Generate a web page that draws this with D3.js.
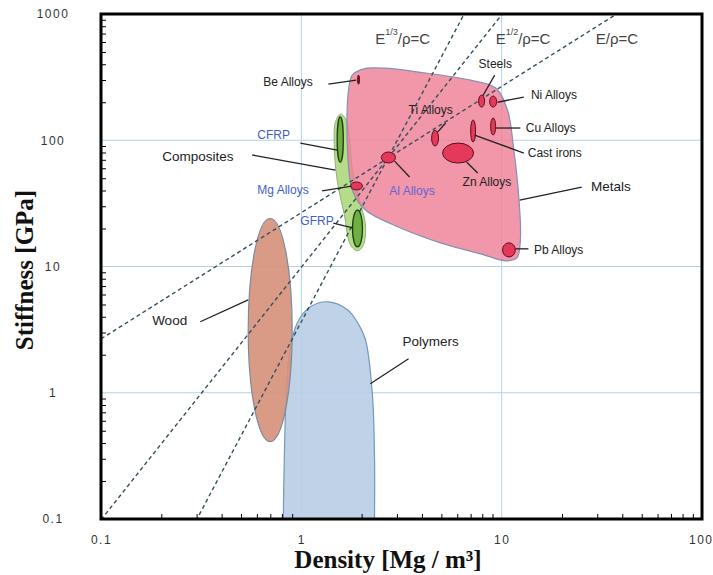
<!DOCTYPE html>
<html>
<head>
<meta charset="utf-8">
<script src="https://cdn.jsdelivr.net/npm/d3@7"></script>
<style>
body { margin: 0; background: #fff; }
svg { display: block; font-family: Arial, "Liberation Sans", sans-serif; }
.tick text { fill: #333; font-size: 12px; letter-spacing: 1.5px; }
.tick line { stroke: #000; }
.label { font-size: 12px; fill: #222; }
.big { font-size: 13.5px; }
.blue { fill: #3f5fc8; }
.purple { fill: #6464d4; }
.leader { stroke: #222; stroke-width: 1.3; }
.guide { fill: none; stroke: #34505c; stroke-width: 1.4; stroke-dasharray: 4 3; }
.guidetext { font-size: 15px; fill: #444; }
.grid { stroke: #b4d2e4; stroke-width: 1; }
.title { font-family: "Liberation Serif", "Times New Roman", serif; font-weight: bold; font-size: 25px; fill: #111; }
</style>
</head>
<body>
<script>
// axis ticks
const xTicks = [0.1, 1, 10, 100];
const yTicks = [0.1, 1, 10, 100, 1000];
const xGrid = [1, 10];
const yGrid = [1, 10, 100];

// envelopes as [density Mg/m3, modulus GPa]
const metalsOutline = [[1.72, 250], [1.80, 330], [2.05, 368], [2.6, 372], [3.94, 345], [7.0, 299], [9.33, 259],
  [10.7, 173], [11.5, 84], [12.2, 34], [12.4, 16.2], [11.9, 11.7], [10.5, 11.1], [7.85, 12.6],
  [4.95, 15.4], [3.13, 20.2], [2.09, 28], [1.80, 40], [1.70, 84]];
const compositesOutline = [[1.57, 161], [1.68, 144], [1.74, 100], [1.80, 58], [1.95, 34], [2.09, 21.3],
  [2.04, 14.8], [1.91, 13.3], [1.76, 14.8], [1.64, 25.6], [1.51, 48], [1.46, 92], [1.48, 139]];
const polymersOutline = [[0.813, 0.03], [0.813, 0.1], [0.822, 0.295], [0.841, 1.0], [0.871, 2.0], [0.955, 3.58],
  [1.109, 4.79], [1.365, 5.25], [1.70, 4.54], [1.91, 3.58], [2.09, 2.63], [2.26, 1.0], [2.32, 0.295],
  [2.32, 0.1], [2.32, 0.03]];
const woodRho = [0.543, 0.90];
const woodE = [0.41, 24];

// single materials: density range, modulus range
const alloyNames = ['Be Alloys', 'Mg Alloys', 'Al Alloys', 'Ti Alloys', 'Zn Alloys', 'Steels',
  'Ni Alloys', 'Cu Alloys', 'Cast irons', 'Pb Alloys'];
const alloyRho = [[1.91, 1.95], [1.76, 2.02], [2.51, 2.95], [4.47, 4.84], [5.07, 7.24], [7.67, 8.22],
  [8.71, 9.44], [8.81, 9.33], [7.0, 7.41], [10.1, 11.7]];
const alloyE = [[278, 328], [40.4, 46.7], [66, 80.7], [90, 120], [66, 95], [183, 228],
  [183, 224], [110, 150], [96.8, 145], [11.9, 15.4]];
const fibreNames = ['CFRP', 'GFRP'];
const fibreRho = [[1.51, 1.62], [1.80, 2.02]];
const fibreE = [[67, 153], [14.3, 28]];

// guide lines E^(1/n)/rho = C
const guideN = [3, 2, 1];
const guideC = [1.54, 3.14, 26.7];
const guideSup = ['1/3', '1/2', ''];
const guideAt = [[2.34, 644], [9.33, 644], [29.5, 644]];

// annotations: text, text anchor, leader start, leader end
const labels = [
  { t: 'Be Alloys', at: [0.646, 289], a: [1.365, 278], b: [1.88, 299] },
  { t: 'CFRP', at: [0.603, 110], a: [0.989, 95], b: [1.51, 83.6], c: 'blue' },
  { t: 'Composites', at: [0.202, 75], a: [0.569, 76.4], b: [1.48, 58.1], c: 'big' },
  { t: 'Mg Alloys', at: [0.603, 40.4], a: [1.27, 39.7], b: [1.78, 43.4], c: 'blue' },
  { t: 'GFRP', at: [0.989, 22.9], a: [1.445, 22.1], b: [1.80, 20.2], c: 'blue' },
  { t: 'Ti Alloys', at: [3.43, 173], a: [5.25, 137], b: [4.79, 116] },
  { t: 'Steels', at: [7.67, 401], a: [9.23, 328], b: [8.04, 224] },
  { t: 'Ni Alloys', at: [14.0, 228], a: [12.9, 220], b: [9.55, 200] },
  { t: 'Cu Alloys', at: [13.2, 125], a: [12.4, 125], b: [9.33, 125] },
  { t: 'Cast irons', at: [13.5, 79.2], a: [12.9, 79.2], b: [7.33, 110] },
  { t: 'Zn Alloys', at: [6.38, 46.7], a: [7.59, 55.1], b: [6.68, 67.2] },
  { t: 'Al Alloys', at: [2.75, 39.7], a: [3.47, 51.2], b: [2.92, 68.4], c: 'purple' },
  { t: 'Metals', at: [27.9, 43.4], a: [25.1, 42.6], b: [12.3, 33.6], c: 'big' },
  { t: 'Pb Alloys', at: [14.5, 13.5], a: [13.6, 13.8], b: [11.7, 13.8] },
  { t: 'Wood', at: [0.180, 3.71], a: [0.313, 3.65], b: [0.543, 5.44], c: 'big' },
  { t: 'Polymers', at: [3.20, 2.53], a: [3.43, 1.86], b: [2.21, 1.18], c: 'big' }
];

let svg = d3.select('body')
    .append('svg')
    .attr('width', 713)
    .attr('height', 575);

const margin = { top: 14, right: 11, bottom: 56, left: 101 };
let plotWidth = 713 - margin.left - margin.right;
let plotHeight = 575 - margin.top - margin.bottom;

let x = d3.scaleLog().domain([0.1, 100]).range([margin.left, margin.left + plotWidth]);
let y = d3.scaleLog().domain([0.1, 1000]).range([margin.top + plotHeight, margin.top]);

svg.append('clipPath').attr('id', 'plotclip')
    .append('rect')
    .attr('x', margin.left).attr('y', margin.top)
    .attr('width', plotWidth).attr('height', plotHeight);

let plot = svg.append('g').attr('clip-path', 'url(#plotclip)');

// grid
plot.selectAll('line.gx').data(xGrid).join('line')
    .attr('class', 'grid')
    .attr('x1', d => x(d)).attr('x2', d => x(d))
    .attr('y1', margin.top).attr('y2', margin.top + plotHeight);
plot.selectAll('line.gy').data(yGrid).join('line')
    .attr('class', 'grid')
    .attr('y1', d => y(d)).attr('y2', d => y(d))
    .attr('x1', margin.left).attr('x2', margin.left + plotWidth);

let outline = d3.line()
    .x(d => x(d[0]))
    .y(d => y(d[1]))
    .curve(d3.curveCatmullRomClosed.alpha(0.5));

function ellipse(g, rho, e) {
    return g.append('ellipse')
        .attr('cx', (x(rho[0]) + x(rho[1])) / 2)
        .attr('cy', (y(e[0]) + y(e[1])) / 2)
        .attr('rx', Math.abs(x(rho[1]) - x(rho[0])) / 2)
        .attr('ry', Math.abs(y(e[1]) - y(e[0])) / 2);
}

// envelopes
plot.append('path').datum(polymersOutline)
    .attr('d', outline)
    .attr('fill', '#b9cde6').attr('fill-opacity', 0.9)
    .attr('stroke', '#7399bb').attr('stroke-width', 1.2);

ellipse(plot, woodRho, woodE)
    .attr('fill', '#d6917c').attr('fill-opacity', 0.92)
    .attr('stroke', '#7b8aa0').attr('stroke-width', 1.2);

plot.append('path').datum(compositesOutline)
    .attr('d', outline)
    .attr('fill', '#b6dc8a')
    .attr('stroke', '#8fae7c').attr('stroke-width', 1);

plot.append('path').datum(metalsOutline)
    .attr('d', outline)
    .attr('fill', '#ef7f96').attr('fill-opacity', 0.82)
    .attr('stroke', '#8391b4').attr('stroke-width', 1.2);

// guide lines
plot.selectAll('path.guide').data(guideN).join('path')
    .attr('class', 'guide')
    .attr('d', (n, i) => d3.line()([0.1, 100].map(r => [x(r), y(Math.pow(guideC[i] * r, n))])));

// individual materials
fibreNames.forEach((name, i) => {
    ellipse(plot, fibreRho[i], fibreE[i])
        .attr('fill', '#6fae41').attr('stroke', '#1d3d12').attr('stroke-width', 1.3);
});
alloyNames.forEach((name, i) => {
    ellipse(plot, alloyRho[i], alloyE[i])
        .attr('fill', name == 'Be Alloys' ? '#6a1020' : '#e5395a')
        .attr('stroke', '#5a1020').attr('stroke-width', 1);
});

// leaders and labels
svg.selectAll('line.leader').data(labels).join('line')
    .attr('class', 'leader')
    .attr('x1', d => x(d.a[0])).attr('y1', d => y(d.a[1]))
    .attr('x2', d => x(d.b[0])).attr('y2', d => y(d.b[1]));

svg.selectAll('text.label').data(labels).join('text')
    .attr('class', d => 'label ' + (d.c || ''))
    .attr('x', d => x(d.at[0]))
    .attr('y', d => y(d.at[1]))
    .attr('dominant-baseline', 'central')
    .text(d => d.t);

let gt = svg.selectAll('text.guidetext').data(guideN).join('text')
    .attr('class', 'guidetext')
    .attr('x', (n, i) => x(guideAt[i][0]))
    .attr('y', (n, i) => y(guideAt[i][1]))
    .attr('dominant-baseline', 'central');
gt.append('tspan').text('E');
gt.append('tspan').text((n, i) => guideSup[i])
    .attr('font-size', 9).attr('dy', (n, i) => guideSup[i] ? -6 : 0);
gt.append('tspan').text('/ρ=C').attr('dy', (n, i) => guideSup[i] ? 6 : 0);

// minor ticks
let yMinor = [], xMinor = [];
[0.1, 1, 10, 100].forEach(d => d3.range(2, 10).forEach(m => { yMinor.push(d * m); xMinor.push(d * m); }));
xMinor = xMinor.filter(v => v < 100);

svg.append('g')
    .attr('transform', `translate(${margin.left},0)`)
    .call(d3.axisLeft(y).tickValues(yMinor).tickSize(-5).tickFormat(''))
    .call(g => g.select('.domain').remove());
svg.append('g')
    .attr('transform', `translate(0,${margin.top + plotHeight})`)
    .call(d3.axisBottom(x).tickValues(xMinor).tickSize(-5).tickFormat(''))
    .call(g => g.select('.domain').remove());

// tick labels
svg.append('g')
    .attr('transform', `translate(${margin.left},0)`)
    .call(d3.axisLeft(y).tickValues(yTicks).tickSize(0).tickFormat(d3.format('~g')))
    .call(g => g.select('.domain').remove())
    .call(g => g.selectAll('text').attr('text-anchor', 'middle').attr('x', -48));
svg.append('g')
    .attr('transform', `translate(0,${margin.top + plotHeight})`)
    .call(d3.axisBottom(x).tickValues(xTicks).tickSize(0).tickPadding(16).tickFormat(d3.format('~g')))
    .call(g => g.select('.domain').remove())
    .call(g => g.selectAll('text').filter(d => d == 100).attr('text-anchor', 'end').attr('dx', 11));

// frame
svg.append('rect')
    .attr('x', margin.left).attr('y', margin.top)
    .attr('width', plotWidth).attr('height', plotHeight)
    .attr('fill', 'none').attr('stroke', '#000').attr('stroke-width', 3);

// titles
svg.append('text')
    .attr('class', 'title')
    .attr('x', 388).attr('y', 568)
    .attr('text-anchor', 'middle')
    .text('Density [Mg / m³]');
svg.append('text')
    .attr('class', 'title')
    .attr('transform', 'translate(33,270) rotate(-90)')
    .attr('text-anchor', 'middle')
    .text('Stiffness [GPa]');
</script>
</body>
</html>
